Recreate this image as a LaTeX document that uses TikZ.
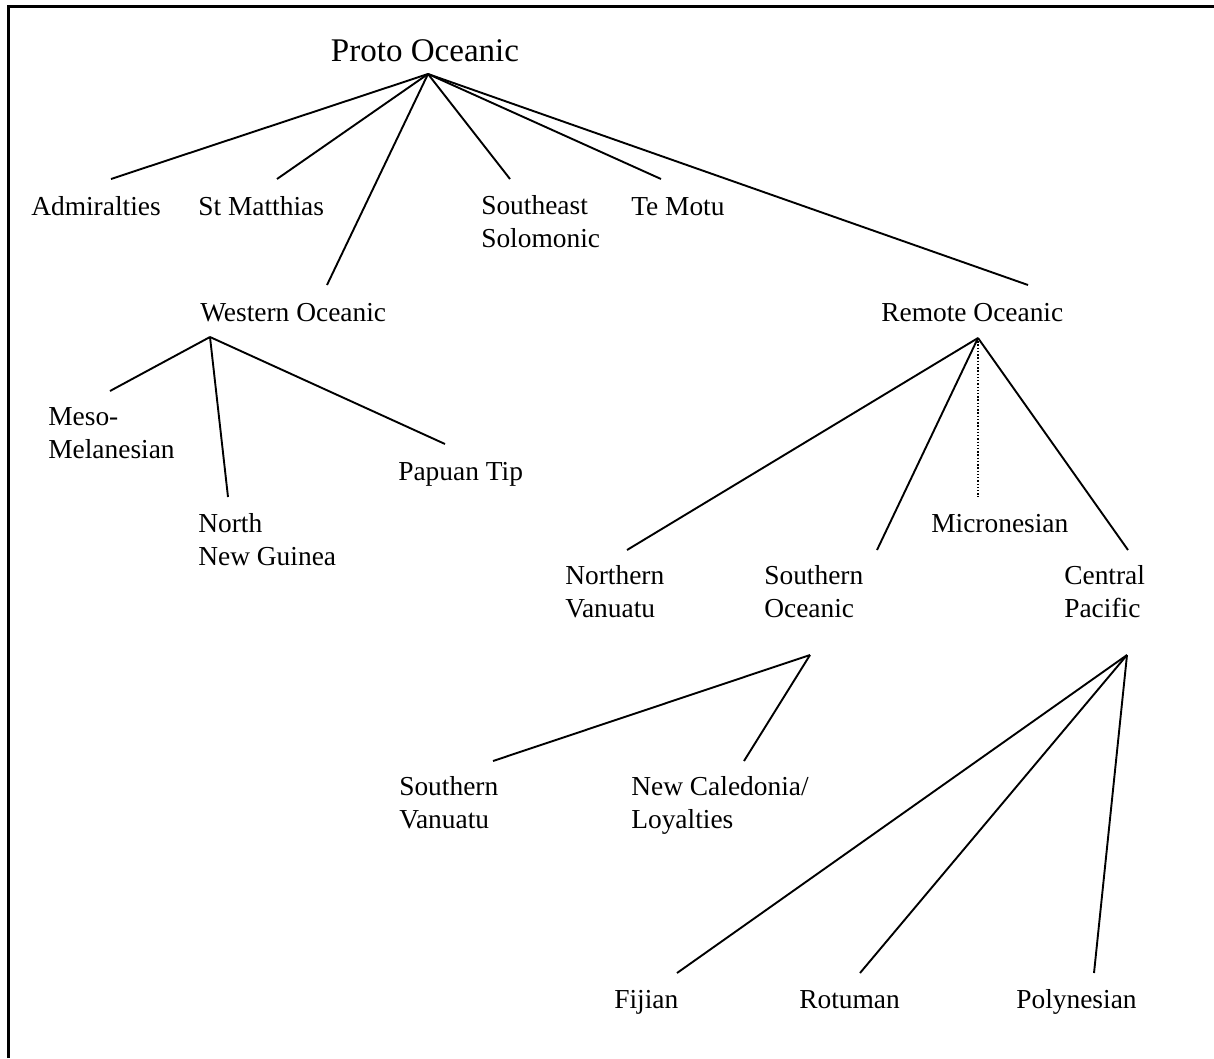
\documentclass[tikz,border=0pt]{standalone}
\usepackage{fontspec}
\setmainfont{Liberation Serif}
\usetikzlibrary{positioning}

\tikzset{
  lbl/.style={anchor=base west, inner sep=0pt, align=left,
    font=\fontsize{19.5}{22.8}\selectfont},
  cabang/.style={line width=1.35pt}
}

\begin{document}
\begin{tikzpicture}[x=0.025cm, y=-0.025cm]
  \useasboundingbox (0,0) rectangle (1214,1058);

  % Bingkai
  \draw[line width=2pt] (8.5,1058) -- (8.5,6.5) -- (1214,6.5);

  % Akar
  \node[anchor=base, inner sep=0pt, font=\fontsize{23.5}{28}\selectfont] (po) at (425,62) {Proto Oceanic};

  % Tingkat pertama (base = baris terakhir)
  \node[lbl] (adm) at (31,215) {Admiralties};
  \node[lbl] (stm) at (198,215) {St Matthias};
  \node[lbl] (seso) at (481,247) {Southeast\\Solomonic};
  \node[lbl] (tm) at (631,215) {Te Motu};
  \node[lbl] (wo) at (200,321) {Western Oceanic};
  \node[lbl] (ro) at (881,321) {Remote Oceanic};

  % Western Oceanic
  \node[lbl] (meso) at (48,458) {Meso-\\Melanesian};
  \node[lbl] (pt) at (398,480) {Papuan Tip};
  \node[lbl] (nng) at (198,565) {North\\New Guinea};

  % Remote Oceanic
  \node[lbl] (mic) at (931,532) {Micronesian};
  \node[lbl] (nv) at (565,617) {Northern\\Vanuatu};
  \node[lbl] (so) at (764,617) {Southern\\Oceanic};
  \node[lbl] (cp) at (1064,617) {Central\\Pacific};

  % Southern Oceanic dan Central Pacific
  \node[lbl] (sv) at (399,828) {Southern\\Vanuatu};
  \node[lbl] (ncl) at (631,828) {New Caledonia/\\Loyalties};
  \node[lbl] (fj) at (614,1008) {Fijian};
  \node[lbl] (rt) at (799,1008) {Rotuman};
  \node[lbl] (pn) at (1016,1008) {Polynesian};

  % Titik ujung garis
  \coordinate (po-foot) at (428,74);
  \coordinate (adm-top) at (111,179);
  \coordinate (stm-top) at (277,179);
  \coordinate (seso-top) at (510,179);
  \coordinate (tm-top) at (661,179);
  \coordinate (wo-top) at (327,285);
  \coordinate (ro-top) at (1028,285);
  \coordinate (wo-foot) at (210,337);
  \coordinate (meso-top) at (110,391);
  \coordinate (nng-top) at (228,497);
  \coordinate (pt-top) at (445,444);
  \coordinate (ro-foot) at (978,338);
  \coordinate (nv-top) at (627,550);
  \coordinate (so-top) at (877,550);
  \coordinate (mic-top) at (978,497);
  \coordinate (cp-top) at (1128,550);
  \coordinate (so-foot) at (810,655);
  \coordinate (sv-top) at (493,761);
  \coordinate (ncl-top) at (744,761);
  \coordinate (cp-foot) at (1127,655);
  \coordinate (fj-top) at (677,973);
  \coordinate (rt-top) at (860,973);
  \coordinate (pn-top) at (1094,973);

  % Garis cabang
  \foreach \c in {adm,stm,seso,tm,wo,ro}
    \draw[cabang] (po-foot) -- (\c-top);
  \foreach \c in {meso,nng,pt}
    \draw[cabang] (wo-foot) -- (\c-top);
  \foreach \c in {nv,so,cp}
    \draw[cabang] (ro-foot) -- (\c-top);
  \draw[line width=1pt, dash pattern=on 1pt off 1.3pt] (ro-foot) -- (mic-top);
  \foreach \c in {sv,ncl}
    \draw[cabang] (so-foot) -- (\c-top);
  \foreach \c in {fj,rt,pn}
    \draw[cabang] (cp-foot) -- (\c-top);
\end{tikzpicture}
\end{document}
